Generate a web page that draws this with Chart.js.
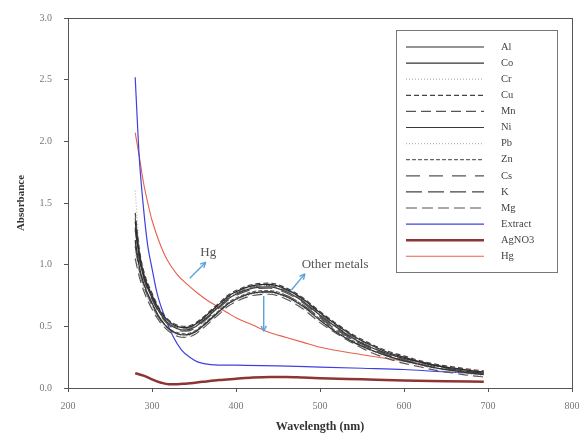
<!DOCTYPE html>
<html>
<head>
<meta charset="utf-8">
<script src="https://cdn.jsdelivr.net/npm/chart.js@4.4.1/dist/chart.umd.min.js"></script>
<style>
  html, body { margin: 0; padding: 0; background: #fff; }
  canvas { display: block; }
</style>
</head>
<body>
<canvas id="c" width="582" height="441"></canvas>
<script>
// ---- Data ----
const wlMetals = [280, 285, 290, 300, 310, 320, 330, 340, 350, 360, 370, 380, 390, 400, 420, 440, 460, 480, 500, 520, 540, 560, 580, 600, 620, 640, 660, 680, 695];
const al = [1.35, 1.08, 0.92, 0.75, 0.62, 0.54, 0.50, 0.49, 0.51, 0.56, 0.62, 0.68, 0.74, 0.78, 0.83, 0.84, 0.80, 0.72, 0.61, 0.51, 0.42, 0.35, 0.29, 0.25, 0.21, 0.18, 0.16, 0.14, 0.13];
const co = [1.20, 0.98, 0.85, 0.69, 0.56, 0.48, 0.44, 0.43, 0.45, 0.50, 0.56, 0.62, 0.68, 0.72, 0.77, 0.78, 0.74, 0.66, 0.55, 0.45, 0.37, 0.31, 0.26, 0.22, 0.19, 0.16, 0.14, 0.12, 0.11];
const cr = [1.10, 0.93, 0.81, 0.66, 0.54, 0.47, 0.43, 0.42, 0.44, 0.49, 0.55, 0.61, 0.67, 0.71, 0.76, 0.77, 0.73, 0.65, 0.54, 0.45, 0.37, 0.30, 0.25, 0.21, 0.18, 0.15, 0.13, 0.11, 0.10];
const cu = [1.42, 1.12, 0.95, 0.77, 0.63, 0.55, 0.51, 0.50, 0.52, 0.57, 0.63, 0.69, 0.75, 0.79, 0.84, 0.85, 0.81, 0.73, 0.62, 0.52, 0.43, 0.36, 0.30, 0.26, 0.22, 0.19, 0.17, 0.15, 0.14];
const mn = [1.05, 0.90, 0.79, 0.64, 0.53, 0.46, 0.42, 0.41, 0.43, 0.48, 0.54, 0.60, 0.66, 0.70, 0.75, 0.76, 0.72, 0.64, 0.53, 0.44, 0.36, 0.29, 0.24, 0.20, 0.17, 0.14, 0.12, 0.10, 0.09];
const ni = [1.30, 1.05, 0.90, 0.73, 0.60, 0.52, 0.48, 0.47, 0.49, 0.54, 0.60, 0.66, 0.72, 0.76, 0.81, 0.82, 0.78, 0.70, 0.59, 0.49, 0.40, 0.33, 0.28, 0.24, 0.21, 0.18, 0.15, 0.13, 0.12];
const pb = [1.60, 1.15, 0.96, 0.76, 0.62, 0.53, 0.49, 0.48, 0.50, 0.55, 0.61, 0.67, 0.73, 0.77, 0.82, 0.83, 0.79, 0.71, 0.60, 0.50, 0.41, 0.34, 0.28, 0.24, 0.20, 0.17, 0.15, 0.13, 0.12];
const zn = [1.18, 0.97, 0.84, 0.68, 0.56, 0.48, 0.45, 0.44, 0.46, 0.51, 0.57, 0.63, 0.69, 0.73, 0.78, 0.79, 0.75, 0.67, 0.56, 0.46, 0.38, 0.31, 0.26, 0.22, 0.19, 0.16, 0.14, 0.12, 0.11];
const cs = [1.28, 1.04, 0.89, 0.72, 0.59, 0.51, 0.47, 0.46, 0.48, 0.53, 0.59, 0.65, 0.71, 0.75, 0.80, 0.81, 0.77, 0.69, 0.58, 0.48, 0.40, 0.33, 0.27, 0.23, 0.20, 0.17, 0.15, 0.13, 0.12];
const k  = [1.15, 0.95, 0.83, 0.67, 0.55, 0.48, 0.44, 0.43, 0.45, 0.50, 0.56, 0.62, 0.68, 0.72, 0.77, 0.78, 0.75, 0.67, 0.57, 0.47, 0.39, 0.32, 0.27, 0.23, 0.19, 0.16, 0.14, 0.12, 0.11];
const mg = [1.38, 1.10, 0.93, 0.75, 0.61, 0.53, 0.49, 0.48, 0.50, 0.55, 0.61, 0.67, 0.73, 0.77, 0.82, 0.83, 0.79, 0.71, 0.60, 0.50, 0.41, 0.34, 0.28, 0.24, 0.21, 0.18, 0.16, 0.14, 0.13];

const wlExtract = [280, 283, 285, 290, 295, 300, 306, 315, 325, 335, 345, 355, 370, 400, 450, 500, 550, 600, 650, 695];
const extract   = [2.52, 2.10, 1.85, 1.45, 1.15, 0.97, 0.77, 0.58, 0.42, 0.31, 0.25, 0.21, 0.19, 0.185, 0.18, 0.17, 0.16, 0.15, 0.13, 0.12];

const wlAg = [280, 290, 300, 310, 320, 330, 340, 360, 380, 400, 420, 440, 460, 480, 500, 550, 600, 650, 695];
const agno3 = [0.12, 0.10, 0.07, 0.045, 0.03, 0.03, 0.035, 0.05, 0.065, 0.075, 0.085, 0.09, 0.09, 0.085, 0.08, 0.07, 0.06, 0.055, 0.05];

const wlHg = [280, 285, 290, 295, 300, 310, 318, 330, 342, 354, 366, 378, 390, 400, 420, 440, 460, 480, 500, 550, 600, 650, 695];
const hg   = [2.07, 1.87, 1.66, 1.50, 1.36, 1.16, 1.04, 0.92, 0.84, 0.77, 0.71, 0.66, 0.61, 0.57, 0.51, 0.45, 0.41, 0.37, 0.33, 0.27, 0.22, 0.17, 0.13];

const xTicks = [200, 300, 400, 500, 600, 700, 800];
const yTicks = [0.0, 0.5, 1.0, 1.5, 2.0, 2.5, 3.0];

// annotations in data units
const notes = [
  { text: 'Hg', x: 367, y: 1.095 },
  { text: 'Other metals', x: 518, y: 1.0 }
];
const arrows = [
  { x1: 345, y1: 0.89, x2: 364, y2: 1.02 },
  { x1: 466, y1: 0.795, x2: 482, y2: 0.925 },
  { x1: 433, y1: 0.745, x2: 433, y2: 0.46 }
];

// ---- build datasets ----
function pts(xs, ys) { return xs.map((x, i) => ({ x: x, y: ys[i] })); }
const metalStyles = [
  ['Al', al, '#2a2a2a', []],
  ['Co', co, '#333333', []],
  ['Cr', cr, '#b0b0b0', [1, 2]],
  ['Cu', cu, '#444444', [5, 3]],
  ['Mn', mn, '#555555', [10, 5]],
  ['Ni', ni, '#3a3a3a', []],
  ['Pb', pb, '#b8b8b8', [1, 2]],
  ['Zn', zn, '#666666', [4, 2]],
  ['Cs', cs, '#555555', [14, 9]],
  ['K',  k,  '#444444', [16, 6]],
  ['Mg', mg, '#555555', [11, 5]]
];
const datasets = metalStyles.map(m => ({
  label: m[0], data: pts(wlMetals, m[1]), borderColor: m[2], borderWidth: 1.2,
  borderDash: m[3], pointRadius: 0, fill: false, cubicInterpolationMode: 'monotone'
}));
datasets.push({ label: 'Extract', data: pts(wlExtract, extract), borderColor: '#4040e0', borderWidth: 1.2,
  borderDash: [], pointRadius: 0, fill: false, cubicInterpolationMode: 'monotone' });
datasets.push({ label: 'AgNO3', data: pts(wlAg, agno3), borderColor: '#8e3434', borderWidth: 2.5,
  borderDash: [], pointRadius: 0, fill: false, cubicInterpolationMode: 'monotone' });
datasets.push({ label: 'Hg', data: pts(wlHg, hg), borderColor: '#e8604c', borderWidth: 1.1,
  borderDash: [], pointRadius: 0, fill: false, cubicInterpolationMode: 'monotone' });

const serif = '"Liberation Serif", "DejaVu Serif", serif';

const framePlugin = {
  id: 'frame',
  afterDraw(chart) {
    const { ctx, chartArea: a, scales } = chart;
    ctx.save();
    ctx.strokeStyle = '#555';
    ctx.lineWidth = 1;
    ctx.strokeRect(a.left + 0.5, a.top + 0.5, a.right - a.left, a.bottom - a.top);

    // annotations
    const sx = scales.x, sy = scales.y;
    ctx.strokeStyle = '#5ba3d9';
    ctx.fillStyle = '#5ba3d9';
    ctx.lineWidth = 1.4;
    arrows.forEach(ar => {
      const x1 = sx.getPixelForValue(ar.x1), y1 = sy.getPixelForValue(ar.y1);
      const x2 = sx.getPixelForValue(ar.x2), y2 = sy.getPixelForValue(ar.y2);
      const ang = Math.atan2(y2 - y1, x2 - x1);
      ctx.beginPath(); ctx.moveTo(x1, y1); ctx.lineTo(x2, y2); ctx.stroke();
      ctx.beginPath();
      ctx.moveTo(x2, y2);
      ctx.lineTo(x2 - 6 * Math.cos(ang - 0.45), y2 - 6 * Math.sin(ang - 0.45));
      ctx.moveTo(x2, y2);
      ctx.lineTo(x2 - 6 * Math.cos(ang + 0.45), y2 - 6 * Math.sin(ang + 0.45));
      ctx.stroke();
    });
    ctx.fillStyle = '#555';
    ctx.font = '13px ' + serif;
    ctx.textAlign = 'center';
    ctx.textBaseline = 'middle';
    notes.forEach(n => {
      ctx.fillText(n.text, sx.getPixelForValue(n.x), sy.getPixelForValue(n.y));
    });

    // legend inside the plot
    const lx = Math.round(sx.getPixelForValue(591)), ly = Math.round(sy.getPixelForValue(2.9));
    const lw = 161, rowH = 16.1;
    const lh = Math.round(rowH * chart.data.datasets.length + 17);
    ctx.fillStyle = '#fff';
    ctx.fillRect(lx, ly, lw, lh);
    ctx.strokeStyle = '#777';
    ctx.lineWidth = 1;
    ctx.strokeRect(lx + 0.5, ly + 0.5, lw, lh);
    ctx.font = '10.5px ' + serif;
    ctx.textAlign = 'left';
    ctx.textBaseline = 'middle';
    chart.data.datasets.forEach((d, i) => {
      const y = ly + 17 + i * rowH;
      ctx.save();
      ctx.strokeStyle = d.borderColor;
      ctx.lineWidth = d.borderWidth;
      ctx.setLineDash(d.borderDash || []);
      ctx.beginPath(); ctx.moveTo(lx + 10, y); ctx.lineTo(lx + 88, y); ctx.stroke();
      ctx.restore();
      ctx.fillStyle = '#444';
      ctx.fillText(d.label, lx + 105, y);
    });
    ctx.restore();
  }
};

new Chart(document.getElementById('c'), {
  type: 'line',
  data: { datasets: datasets },
  plugins: [framePlugin],
  options: {
    responsive: false,
    animation: false,
    layout: { padding: { top: 18, right: 10, left: 0, bottom: 0 } },
    plugins: { legend: { display: false }, tooltip: { enabled: false } },
    scales: {
      x: {
        type: 'linear', min: 200, max: 800,
        afterBuildTicks: s => { s.ticks = xTicks.map(v => ({ value: v })); },
        afterFit: s => { s.height = 53; s.paddingLeft = 0; s.paddingRight = 0; },
        grid: { display: true, drawOnChartArea: false, drawTicks: true, tickLength: 4, color: '#555' },
        border: { display: true, color: '#555' },
        ticks: { color: '#777', font: { family: serif, size: 10 }, padding: 8, maxRotation: 0 },
        title: { display: true, text: 'Wavelength (nm)', color: '#333',
                 font: { family: serif, size: 12, weight: 'bold' }, padding: { top: 0, bottom: 7 } }
      },
      y: {
        type: 'linear', min: 0, max: 3,
        afterBuildTicks: s => { s.ticks = yTicks.map(v => ({ value: v })); },
        afterFit: s => { s.width = 68; s.paddingTop = 0; s.paddingBottom = 0; },
        grid: { display: true, drawOnChartArea: false, drawTicks: true, tickLength: 4, color: '#555' },
        border: { display: true, color: '#555' },
        ticks: { color: '#777', font: { family: serif, size: 10 }, padding: 12,
                 callback: v => Number(v).toFixed(1) },
        title: { display: true, text: 'Absorbance', color: '#333',
                 font: { family: serif, size: 11, weight: 'bold' }, padding: { top: 15, bottom: 0 } }
      }
    }
  }
});
</script>
</body>
</html>
